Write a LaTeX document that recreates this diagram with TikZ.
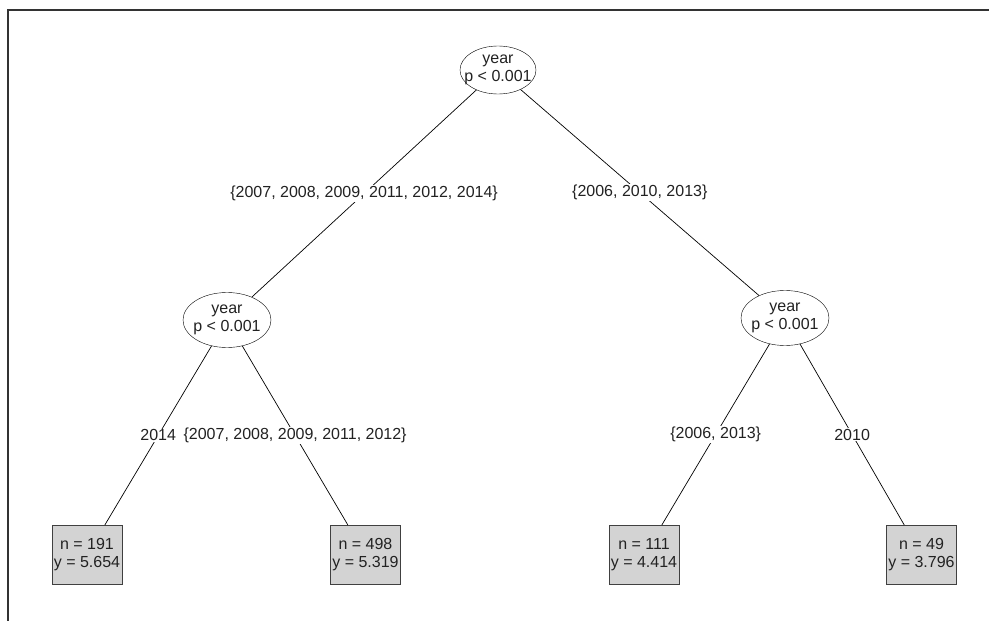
\documentclass[tikz,border=0pt]{standalone}
\usepackage{fontspec}
\setmainfont{Liberation Sans}
\usetikzlibrary{shapes.geometric}
\definecolor{boxgray}{HTML}{D3D3D3}
\definecolor{inkgray}{HTML}{222222}

\begin{document}
\begin{tikzpicture}[x=1pt, y=-1pt, font=\fontsize{16}{18}\selectfont, text=inkgray]
    \useasboundingbox (0,0) rectangle (989,621);
    \draw [line width=1.5pt, draw=black!80] (8,621) -- (8,10) -- (989,10);

    \begin{scope}[every node/.style={ellipse, draw, fill=white, thin, align=center, inner xsep=-12pt, inner ysep=-10pt}]
        \node [minimum width=76pt, minimum height=48pt] (1) at (498,70) {year\\p < 0.001};
        \node [minimum width=88pt, minimum height=55pt] (2) at (227,320) {year\\p < 0.001};
        \node [minimum width=88pt, minimum height=55pt] (5) at (785,318) {year\\p < 0.001};
    \end{scope}

    \begin{scope}[every node/.style={rectangle, fill=boxgray, draw=black!75, line width=1pt, minimum width=70pt, minimum height=59pt, inner sep=0pt, align=center}]
        \node (3) at (87,555) {n = 191\\y = 5.654};
        \node (4) at (365.5,555) {n = 498\\y = 5.319};
        \node (6) at (644,555) {n = 111\\y = 4.414};
        \node (7) at (921.5,555) {n = 49\\y = 3.796};
    \end{scope}

    \begin{scope}[line width=0.7pt, every node/.style={fill=white, inner sep=1pt, midway}]
        \draw (1) -- node {\{2007, 2008, 2009, 2011, 2012, 2014\}} (2);
        \draw (1) -- node {\{2006, 2010, 2013\}} (5);
        \draw (2) -- node {2014} (3);
        \draw (2) -- node {\{2007, 2008, 2009, 2011, 2012\}} (4);
        \draw (5) -- node {\{2006, 2013\}} (6);
        \draw (5) -- node {2010} (7);
    \end{scope}
\end{tikzpicture}
\end{document}
